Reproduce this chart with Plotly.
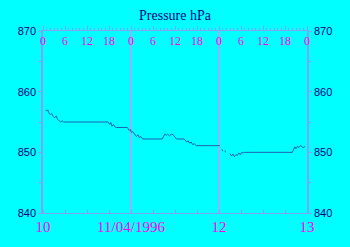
import pandas as pd
import plotly.graph_objects as go

# hours since 1996-04-10 00:00 and pressure (hPa)
hours = [0.8, 1.0, 1.3, 1.6, 2.0, 2.4, 2.8, 3.2, 3.6, 4.0, 4.4, 4.8, 5.2, 5.6, 6.0,
         9.0, 11.0, 11.5, 12.5, 13.0, 17.6, 17.8, 18.2, 18.5, 18.8, 19.2, 19.6, 20.0,
         23.0, 23.2, 23.5, 23.8, 24.1, 24.5, 25.0, 25.5, 25.9, 26.3, 26.7, 27.2,
         32.5, 32.8, 33.2, 33.6, 34.0, 34.5, 35.0, 35.5, 36.0, 36.4,
         38.5, 38.8, 39.2, 39.6, 40.0, 40.4, 40.8, 41.3, 41.8, 48.2,
         48.5, 48.8, 49.0, 49.3, 49.6, 49.8, 50.4,
         51.0, 51.4, 51.8, 52.2, 52.6, 53.0, 53.4, 53.8, 54.2, 54.6, 55.0,
         68.0, 68.3, 68.7, 69.0, 69.4, 69.8, 70.2, 70.6, 71.0, 71.4]
pressure = [857.0, 856.8, 857.0, 856.5, 856.2, 856.4, 855.9, 855.7, 856.0, 855.4, 855.2, 855.0, 855.2, 855.0, 855.0,
            855.0, 855.0, 855.1, 855.1, 855.0, 855.0, 855.0, 854.6, 854.9, 854.3, 854.6, 854.2, 854.1,
            854.1, 853.9, 853.6, 853.8, 853.3, 853.4, 852.9, 852.6, 852.9, 852.4, 852.6, 852.2,
            852.2, 852.5, 853.0, 852.8, 853.0, 852.7, 853.0, 852.9, 852.4, 852.2,
            852.2, 852.0, 851.7, 851.9, 851.5, 851.7, 851.3, 851.4, 851.1, 851.1,
            None, 850.5, 850.2, None, 850.3, 850.0, None,
            849.8, 849.4, 849.7, 849.3, 849.6, 849.5, 849.9, 849.6, 850.0, 849.9, 850.0,
            850.0, 850.4, 850.9, 850.6, 851.0, 850.8, 851.1, 851.0, 850.7, 851.0]

start = pd.Timestamp("1996-04-10")
end = pd.Timestamp("1996-04-13")
times = [start + pd.Timedelta(hours=h) for h in hours]

day_labels = ["10", "11/04/1996", "12", "13"]
hour_labels = ["0", "6", "12", "18"] * 3 + ["0"]
y_ticks = [840, 850, 860, 870]

day_vals = [start + pd.Timedelta(days=i) for i in range(4)]
hour_vals = [start + pd.Timedelta(hours=6 * i) for i in range(13)]

axis_col = "#80a4f4"
grid_col = "#94b0ff"
mag = "#ff00ff"
navy = "#000080"

fig = go.Figure()
fig.add_trace(go.Scatter(x=times, y=pressure, mode="lines",
                         line=dict(color="#1f60b4", width=1), connectgaps=False,
                         showlegend=False))
fig.add_trace(go.Scatter(x=times, y=pressure, mode="lines", xaxis="x2", yaxis="y2",
                         line=dict(width=0), opacity=0, showlegend=False, hoverinfo="skip"))

for v, t in zip(hour_vals, hour_labels):
    fig.add_annotation(x=v, y=1, xref="x", yref="paper", text=t, showarrow=False,
                       xanchor="center", yanchor="top", yshift=-1,
                       font=dict(family="Liberation Serif", size=12, color=mag))

ycommon = dict(range=[840, 870], tickmode="array", tickvals=y_ticks,
               tickfont=dict(family="Liberation Sans", size=11, color=navy),
               showgrid=False, showline=True, linecolor=axis_col, linewidth=1.5,
               ticks="outside", ticklen=3, tickcolor=axis_col, zeroline=False,
               minor=dict(dtick=5, ticks="outside", ticklen=2, tickcolor=axis_col, showgrid=False))

fig.update_layout(
    width=350, height=247,
    margin=dict(l=43, r=43, t=31, b=31),
    paper_bgcolor="#00ffff", plot_bgcolor="#00ffff",
    title=dict(text="Pressure hPa", x=0.5, xanchor="center", y=0.94, yanchor="middle",
               font=dict(family="Liberation Serif", size=14, color=navy)),
    xaxis=dict(range=[start, end], tickmode="array", tickvals=day_vals, ticktext=day_labels,
               tickfont=dict(family="Liberation Serif", size=15, color=mag),
               showgrid=True, gridcolor=grid_col, gridwidth=1.5,
               showline=True, linecolor=axis_col, linewidth=1,
               ticks="", zeroline=False,
               minor=dict(dtick=6 * 3600 * 1000, tick0=start, ticks="inside", ticklen=3,
                          tickcolor=axis_col, showgrid=False)),
    xaxis2=dict(range=[start, end], overlaying="x", side="top", anchor="y",
                tickmode="array", tickvals=hour_vals, showticklabels=False,
                showgrid=False, showline=True, linecolor=axis_col, linewidth=1,
                ticks="outside", ticklen=4, tickcolor=axis_col, zeroline=False,
                minor=dict(dtick=3600 * 1000, tick0=start, ticks="outside", ticklen=2,
                           tickcolor=axis_col, showgrid=False)),
    yaxis=dict(**ycommon),
    yaxis2=dict(**ycommon, overlaying="y", side="right", anchor="x"),
)

fig.write_html("out.html")
